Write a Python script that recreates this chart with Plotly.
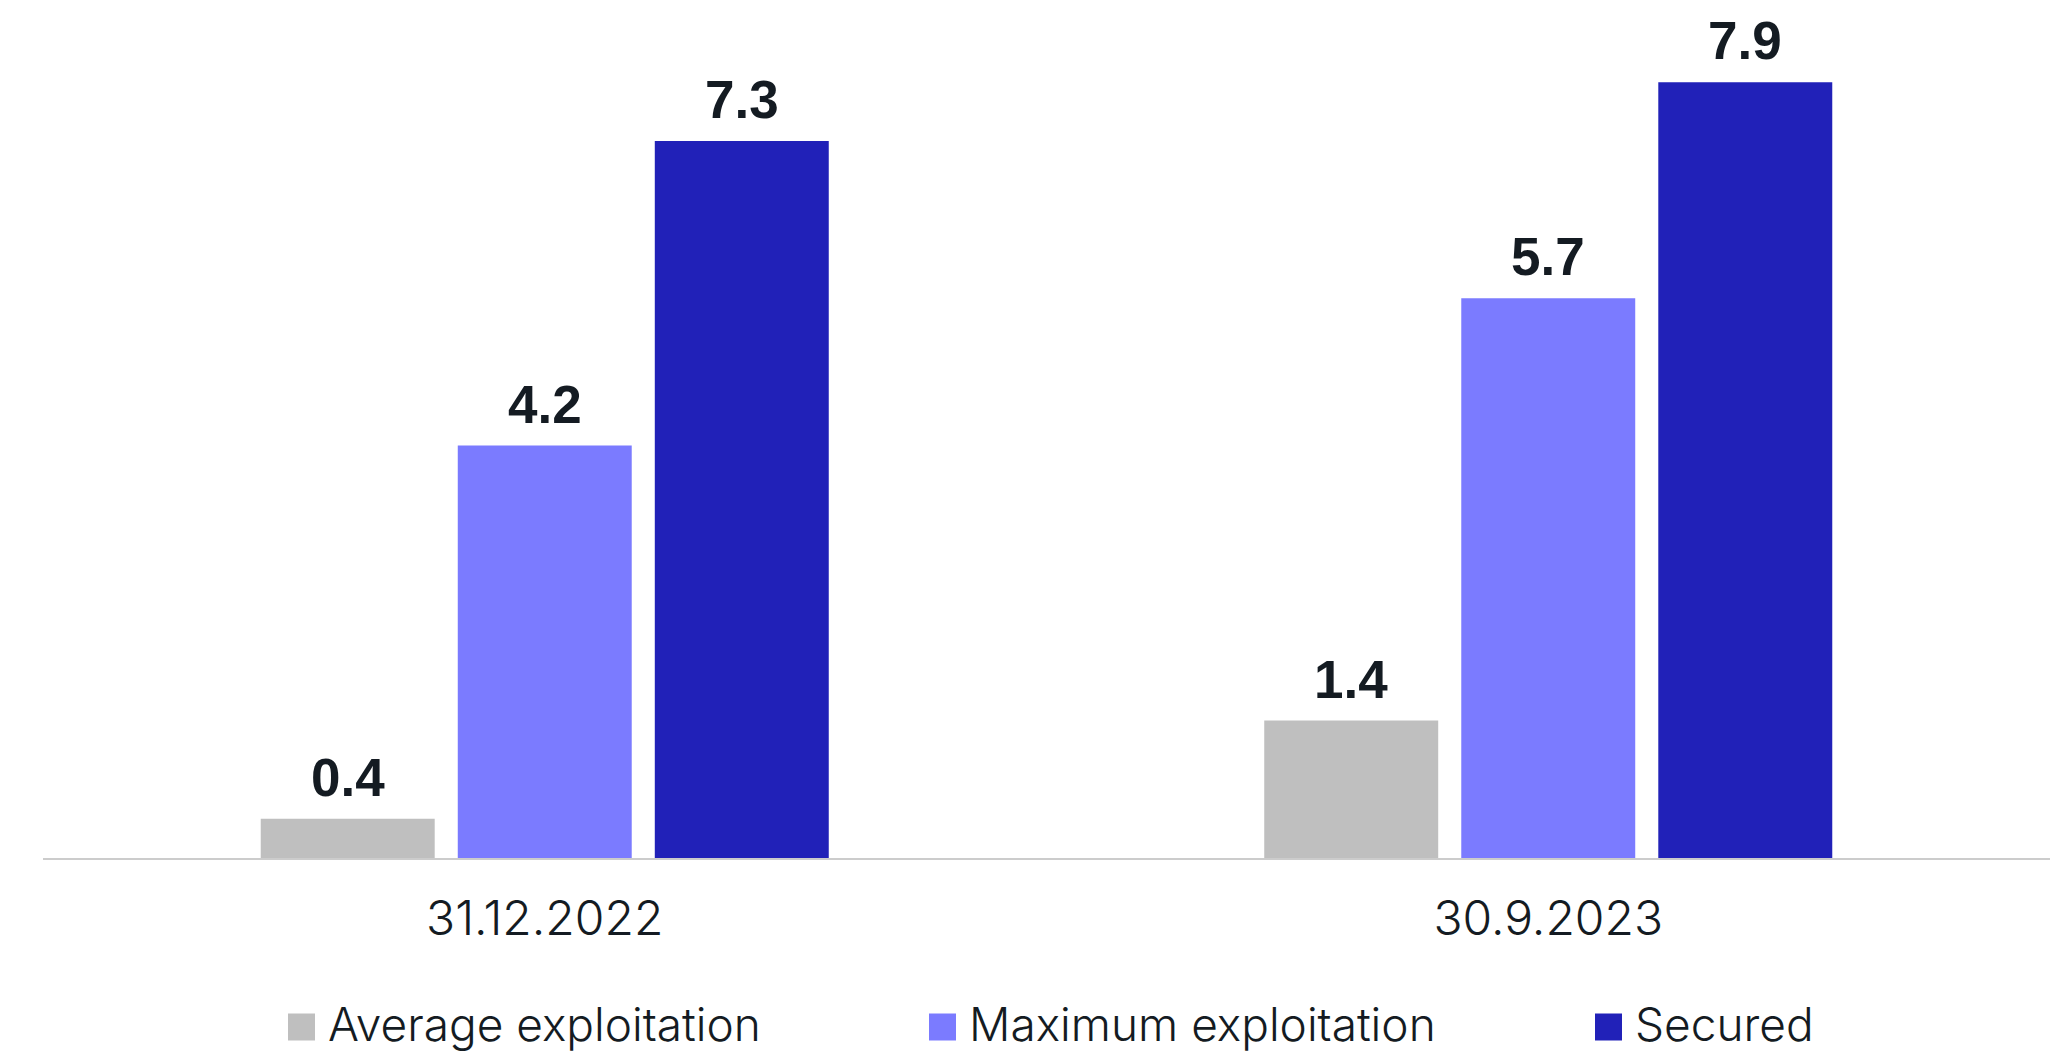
import plotly.graph_objects as go

# Dates compared and the three facility measures (EUR bn)
categories = ["31.12.2022", "30.9.2023"]
series_names = ["Average exploitation", "Maximum exploitation", "Secured"]
average_exploitation = [0.4, 1.4]
maximum_exploitation = [4.2, 5.7]
secured = [7.3, 7.9]
series_values = [average_exploitation, maximum_exploitation, secured]
series_colors = ["#BFBFBF", "#7B7BFF", "#2121B8"]

TEXT_COLOR = "#141B22"
W, H = 2060, 1055
M_L, M_R, M_T, M_B = 43, 10, 10, 197
BARGAP = 0.411
BARGROUPGAP = 0.117
Y_MAX = 8.635

fig = go.Figure()
for name, vals, color in zip(series_names, series_values, series_colors):
    fig.add_trace(go.Bar(
        name=name, x=categories, y=vals,
        marker=dict(color=color, line=dict(width=0)),
        showlegend=False, hoverinfo="skip",
    ))

# Value labels above each bar, positioned from the bar's own value
n = len(series_values)
slot = (1 - BARGAP) / n
for i, vals in enumerate(series_values):
    offset = (i - (n - 1) / 2) * slot
    for j, v in enumerate(vals):
        fig.add_annotation(
            x=j + offset, y=v, xref="x", yref="y",
            text=f"<b>{v:.1f}</b>", showarrow=False,
            yanchor="bottom", xanchor="center", yshift=10,
            font=dict(family="Liberation Sans, Arial, sans-serif", size=53, color=TEXT_COLOR),
        )

# Legend row drawn below the axis with large square swatches
plot_w = W - M_L - M_R
plot_h = H - M_T - M_B


def px_x(px):
    return (px - M_L) / plot_w


def px_y(py):
    return (H - M_B - py) / plot_h


legend_swatch_left = [288, 929, 1595]
SW = 27
LEG_CY = 1027
for name, color, left in zip(series_names, series_colors, legend_swatch_left):
    fig.add_shape(
        type="rect", xref="paper", yref="paper",
        x0=px_x(left), x1=px_x(left + SW),
        y0=px_y(LEG_CY - SW / 2), y1=px_y(LEG_CY + SW / 2),
        fillcolor=color, line=dict(width=0),
    )
    fig.add_annotation(
        x=px_x(left + SW + 11), y=px_y(LEG_CY - 3), xref="paper", yref="paper",
        text=name, showarrow=False, xanchor="left", yanchor="middle",
        font=dict(family="Inter, sans-serif", size=46, weight=300, color=TEXT_COLOR),
    )

fig.update_layout(
    width=W, height=H,
    margin=dict(l=M_L, r=M_R, t=M_T, b=M_B, pad=0),
    barmode="group", bargap=BARGAP, bargroupgap=BARGROUPGAP,
    plot_bgcolor="white", paper_bgcolor="white",
    showlegend=False,
    xaxis=dict(
        showgrid=False, zeroline=False, showline=True,
        linecolor="#CCCCCC", linewidth=2, ticks="",
        tickfont=dict(family="Inter, sans-serif", size=48, weight=300, color=TEXT_COLOR),
        ticklabelstandoff=17, fixedrange=True,
    ),
    yaxis=dict(
        range=[0, Y_MAX], visible=False, showgrid=False, zeroline=False,
        fixedrange=True,
    ),
)

fig.write_html("out.html")
